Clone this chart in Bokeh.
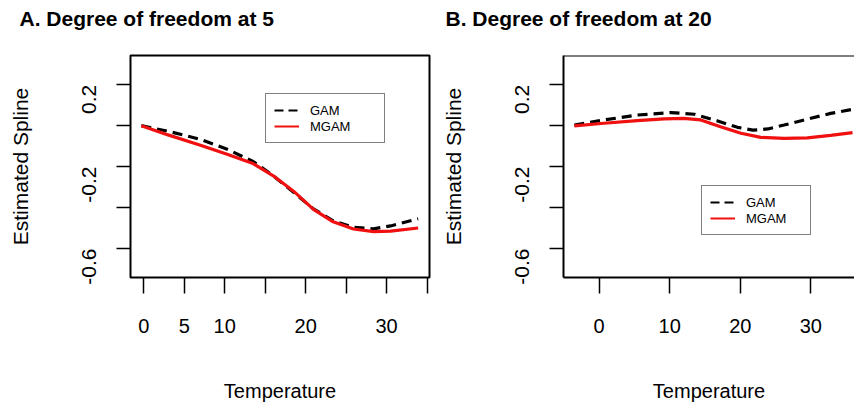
import math
from bokeh.plotting import figure
from bokeh.models import Range1d, FixedTicker, Legend, LegendItem, Span, Title
from bokeh.layouts import row
from bokeh.embed import file_html
from bokeh.resources import INLINE

# ---------------- data ----------------
# Panel A: degree of freedom 5
temp_a_gam = [-0.3, 3.3, 7.0, 10.3, 13.5, 16.0, 18.5, 20.9, 23.4, 25.9, 28.4, 30.5, 33.9]
gam_a = [0.0, -0.03, -0.067, -0.115, -0.175, -0.245, -0.325, -0.405, -0.465, -0.497, -0.504, -0.49, -0.455]
temp_a_mgam = [-0.3, 3.0, 7.0, 10.3, 13.5, 16.0, 18.5, 21.0, 23.4, 25.9, 28.4, 30.5, 33.9]
mgam_a = [0.0, -0.045, -0.096, -0.14, -0.185, -0.245, -0.32, -0.41, -0.47, -0.505, -0.518, -0.515, -0.5]

# Panel B: degree of freedom 20
temp_b_gam = [-3.5, 0.7, 5.4, 10.2, 13.5, 16.8, 19.6, 21.8, 23.9, 26.2, 30.0, 32.8, 35.9]
gam_b = [0.003, 0.028, 0.052, 0.064, 0.056, 0.023, -0.008, -0.022, -0.016, 0.003, 0.036, 0.06, 0.08]
temp_b_mgam = [-3.5, 0.7, 5.4, 9.2, 12.0, 14.4, 17.2, 20.1, 22.9, 26.2, 29.5, 32.8, 35.9]
mgam_b = [-0.001, 0.012, 0.025, 0.033, 0.036, 0.028, -0.005, -0.037, -0.057, -0.062, -0.06, -0.047, -0.034]

# tick values and labels
x_ticks_a = [0, 5, 10, 15, 20, 25, 30, 35]
x_labels_a = ["0", "5", "10", "", "20", "", "30", ""]
x_ticks_b = [0, 10, 20, 30]
x_labels_b = ["0", "10", "20", "30"]
y_ticks = [-0.6, -0.4, -0.2, 0.0, 0.2]
y_labels = ["-0.6", "", "-0.2", "", "0.2"]

titles = ["A. Degree of freedom at 5", "B. Degree of freedom at 20"]
series_names = ["GAM", "MGAM"]
x_label = "Temperature"
y_label = "Estimated Spline"

FONT = "Liberation Sans"
Y_RANGE = (-0.742, 0.343)
NAN = float("nan")


def make_panel(title, width, b_left, b_right, xr, xt, xl, xg, yg, xm, ym,
               leg_loc, leg_label_w, closed_box, title_offset):
    p = figure(width=width, height=404, output_backend="svg", toolbar_location=None,
               x_range=Range1d(*xr), y_range=Range1d(*Y_RANGE),
               min_border_left=b_left, min_border_right=b_right,
               min_border_top=55, min_border_bottom=127)
    p.grid.visible = False
    p.background_fill_color = "white"
    p.border_fill_color = "white"
    if closed_box:
        p.outline_line_color = "black"
        p.outline_line_width = 2
        p.outline_line_alpha = 1
    else:
        p.outline_line_color = None

    # x axis
    xa = p.xaxis[0]
    xa.ticker = FixedTicker(ticks=xt)
    xa.major_label_overrides = {t: l for t, l in zip(xt, xl)}
    xa.axis_label = x_label
    xa.axis_label_text_font = FONT
    xa.axis_label_text_font_size = "20px"
    xa.axis_label_text_font_style = "normal"
    xa.axis_label_text_color = "black"
    xa.axis_label_standoff = 44
    xa.major_label_text_font = FONT
    xa.major_label_text_font_size = "20px"
    xa.major_label_text_color = "black"
    xa.major_label_standoff = 25
    xa.major_tick_out = 16
    xa.major_tick_in = 0
    xa.major_tick_line_width = 1.5
    xa.major_tick_line_color = "black"
    xa.minor_tick_line_color = None
    if closed_box:
        xa.axis_line_color = None
    else:
        xa.axis_line_color = "black"
        xa.axis_line_width = 2

    # y axis
    ya = p.yaxis[0]
    ya.ticker = FixedTicker(ticks=y_ticks)
    ya.major_label_overrides = {t: l for t, l in zip(y_ticks, y_labels)}
    ya.major_label_orientation = math.pi / 2
    ya.axis_label = y_label
    ya.axis_label_text_font = FONT
    ya.axis_label_text_font_size = "21px"
    ya.axis_label_text_font_style = "normal"
    ya.axis_label_text_color = "black"
    ya.axis_label_standoff = 41
    ya.major_label_text_font = FONT
    ya.major_label_text_font_size = "21px"
    ya.major_label_text_color = "black"
    ya.major_label_standoff = 27
    ya.major_tick_out = 14
    ya.major_tick_in = 0
    ya.major_tick_line_width = 1.5
    ya.major_tick_line_color = "black"
    ya.minor_tick_line_color = None
    if closed_box:
        ya.axis_line_color = None
    else:
        ya.axis_line_color = "black"
        ya.axis_line_width = 2
        p.add_layout(Span(location=Y_RANGE[1], dimension="width",
                          line_color="black", line_width=2))

    # title: a blank second line lifts the text towards the top of the border
    p.add_layout(Title(text=title + "\n ", align="left", offset=title_offset,
                       standoff=6, text_line_height=1.0,
                       text_font=FONT, text_font_size="21px", text_font_style="bold",
                       text_color="black"), "above")

    p.line(xg, yg, line_color="black", line_width=3.2, line_dash="10 6")
    p.line(xm, ym, line_color="#f01010", line_width=3.2)

    # thinner legend keys (renderers with no drawable points)
    kg = p.line([NAN, NAN], [NAN, NAN], line_color="black", line_width=2, line_dash="9 5")
    km = p.line([NAN, NAN], [NAN, NAN], line_color="#f01010", line_width=2)

    legend = Legend(items=[LegendItem(label=series_names[0], renderers=[kg]),
                           LegendItem(label=series_names[1], renderers=[km])],
                    location=leg_loc, orientation="vertical",
                    border_line_color="black", border_line_width=1.5,
                    background_fill_color="white", background_fill_alpha=1,
                    padding=8, spacing=0, margin=0,
                    label_height=16, glyph_height=16, glyph_width=25,
                    label_standoff=11, label_width=leg_label_w,
                    label_text_font=FONT, label_text_font_size="13px",
                    label_text_color="black")
    p.add_layout(legend, "center")
    return p


p1 = make_panel(titles[0], 438, 130, 9, (-1.64, 35.3), x_ticks_a, x_labels_a,
                temp_a_gam, gam_a, temp_a_mgam, mgam_a, (135, 134), 66, True, -111)
p2 = make_panel(titles[1], 416, 125, 0, (-5.04, 36.18), x_ticks_b, x_labels_b,
                temp_b_gam, gam_b, temp_b_mgam, mgam_b, (138, 42), 56, False, -118)

layout = row(p1, p2)
open("out.html", "w").write(file_html(layout, INLINE))
